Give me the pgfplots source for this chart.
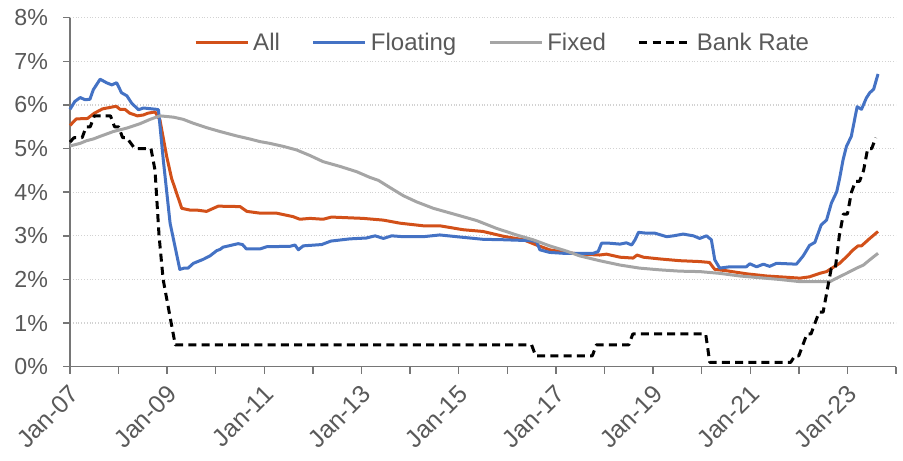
\documentclass[border=0pt]{standalone}
\usepackage{fontspec}
\setmainfont{Liberation Sans}
\usepackage{pgfplots}
\pgfplotsset{compat=1.18}
\usepackage{pgfplotstable}

\definecolor{allc}{RGB}{210,80,25}
\definecolor{floatc}{RGB}{68,114,196}
\definecolor{fixc}{RGB}{165,165,165}
\definecolor{labelgray}{RGB}{89,89,89}
\definecolor{axisgray}{RGB}{118,118,118}
\definecolor{gridgray}{RGB}{210,210,210}

% mortgage rates, x = decimal year, y = %
\pgfplotstableread{
t v
2007.00 5.53
2007.13 5.68
2007.36 5.69
2007.50 5.81
2007.67 5.91
2007.95 5.97
2008.03 5.90
2008.13 5.90
2008.23 5.81
2008.39 5.75
2008.51 5.77
2008.60 5.81
2008.75 5.84
2008.85 5.66
2008.99 4.82
2009.09 4.32
2009.30 3.63
2009.47 3.59
2009.61 3.59
2009.81 3.56
2010.05 3.68
2010.50 3.67
2010.64 3.56
2010.91 3.52
2011.25 3.52
2011.59 3.44
2011.73 3.38
2011.94 3.40
2012.21 3.38
2012.38 3.43
2013.03 3.40
2013.45 3.36
2013.79 3.29
2014.27 3.23
2014.61 3.23
2015.09 3.14
2015.50 3.10
2015.92 2.99
2016.33 2.91
2016.60 2.79
2016.87 2.68
2017.08 2.64
2017.49 2.58
2017.90 2.56
2018.04 2.58
2018.32 2.51
2018.59 2.49
2018.67 2.56
2018.80 2.51
2019.14 2.47
2019.55 2.43
2019.96 2.41
2020.16 2.39
2020.27 2.23
2020.51 2.20
2020.92 2.13
2021.33 2.08
2021.75 2.05
2022.02 2.03
2022.22 2.06
2022.43 2.14
2022.57 2.18
2022.71 2.28
2022.84 2.37
2022.98 2.52
2023.12 2.68
2023.22 2.77
2023.29 2.77
2023.46 2.94
2023.63 3.10
}\allrate

\pgfplotstableread{
t v
2007.00 5.90
2007.10 6.08
2007.21 6.17
2007.31 6.12
2007.41 6.13
2007.48 6.35
2007.62 6.59
2007.75 6.51
2007.86 6.46
2007.96 6.51
2008.06 6.28
2008.17 6.21
2008.27 6.04
2008.41 5.89
2008.51 5.93
2008.78 5.90
2008.82 5.89
2008.92 4.74
2009.06 3.29
2009.26 2.23
2009.35 2.26
2009.43 2.26
2009.54 2.37
2009.74 2.46
2009.88 2.54
2010.02 2.66
2010.09 2.69
2010.15 2.74
2010.46 2.82
2010.55 2.80
2010.63 2.70
2010.91 2.70
2011.05 2.75
2011.53 2.76
2011.63 2.79
2011.70 2.68
2011.80 2.77
2012.18 2.80
2012.37 2.88
2012.76 2.93
2013.10 2.95
2013.28 3.00
2013.45 2.94
2013.62 3.00
2013.86 2.98
2014.27 2.98
2014.61 3.02
2014.96 2.98
2015.50 2.92
2015.92 2.91
2016.46 2.89
2016.60 2.87
2016.67 2.68
2016.87 2.62
2017.15 2.60
2017.36 2.60
2017.77 2.60
2017.87 2.64
2017.94 2.83
2018.11 2.83
2018.32 2.81
2018.45 2.84
2018.56 2.79
2018.63 2.91
2018.70 3.08
2018.87 3.06
2019.04 3.06
2019.28 2.98
2019.42 3.00
2019.62 3.04
2019.83 3.00
2019.96 2.94
2020.10 3.00
2020.20 2.91
2020.27 2.45
2020.37 2.26
2020.58 2.29
2020.92 2.29
2020.99 2.36
2021.13 2.29
2021.27 2.35
2021.40 2.30
2021.54 2.37
2021.75 2.36
2021.95 2.35
2022.09 2.54
2022.22 2.78
2022.33 2.85
2022.46 3.25
2022.57 3.36
2022.67 3.75
2022.78 4.01
2022.84 4.32
2022.91 4.74
2022.98 5.05
2023.08 5.28
2023.20 5.96
2023.29 5.90
2023.39 6.16
2023.46 6.28
2023.54 6.36
2023.63 6.71
}\floatrate

\pgfplotstableread{
t v
2007.00 5.06
2007.21 5.12
2007.34 5.18
2007.48 5.22
2007.62 5.28
2007.89 5.39
2008.17 5.47
2008.44 5.57
2008.65 5.67
2008.85 5.75
2009.13 5.72
2009.33 5.67
2009.54 5.58
2009.81 5.48
2010.09 5.39
2010.43 5.29
2010.70 5.22
2010.91 5.16
2011.11 5.12
2011.39 5.05
2011.66 4.97
2011.94 4.84
2012.21 4.70
2012.56 4.59
2012.90 4.47
2013.17 4.34
2013.35 4.27
2013.58 4.11
2013.86 3.92
2014.13 3.78
2014.48 3.63
2014.96 3.48
2015.37 3.35
2015.78 3.17
2016.19 3.02
2016.53 2.91
2016.87 2.77
2017.22 2.65
2017.49 2.54
2017.90 2.43
2018.32 2.33
2018.72 2.26
2019.14 2.22
2019.55 2.19
2019.96 2.18
2020.37 2.14
2020.78 2.08
2021.19 2.04
2021.60 2.00
2022.02 1.95
2022.64 1.95
2022.78 2.03
2022.98 2.14
2023.19 2.26
2023.33 2.33
2023.46 2.45
2023.63 2.60
}\fixrate

\pgfplotstableread{
t v
2007.000 5.15
2007.083 5.25
2007.250 5.25
2007.333 5.50
2007.417 5.50
2007.500 5.75
2007.833 5.75
2007.917 5.50
2008.000 5.50
2008.083 5.25
2008.167 5.25
2008.333 5.00
2008.667 5.00
2008.750 4.50
2008.833 3.00
2008.917 2.00
2009.000 1.50
2009.083 1.00
2009.167 0.50
2016.500 0.50
2016.583 0.25
2017.750 0.25
2017.833 0.50
2018.500 0.50
2018.583 0.75
2020.083 0.75
2020.167 0.10
2021.833 0.10
2021.917 0.25
2022.000 0.25
2022.083 0.50
2022.167 0.75
2022.250 0.75
2022.333 1.00
2022.417 1.25
2022.500 1.25
2022.583 1.75
2022.667 2.25
2022.750 2.25
2022.833 3.00
2022.917 3.50
2023.000 3.50
2023.083 4.00
2023.167 4.25
2023.250 4.25
2023.333 4.50
2023.417 5.00
2023.500 5.00
2023.583 5.25
}\bankrate

\begin{document}
\begin{tikzpicture}
\begin{axis}[
  scale only axis,
  width=413pt, height=174.5pt,
  xmin=2007, xmax=2024,
  ymin=0, ymax=8,
  axis x line*=bottom,
  axis y line*=left,
  axis line style={-, draw=axisgray, line width=0.7pt},
  tick style={draw=axisgray, line width=0.7pt},
  tick align=outside,
  major tick length=3.5pt,
  minor tick length=3.5pt,
  xtick={2007,2009,...,2023},
  minor xtick={2008,2010,...,2024},
  xticklabels={Jan-07,Jan-09,Jan-11,Jan-13,Jan-15,Jan-17,Jan-19,Jan-21,Jan-23},
  ytick={0,...,8},
  yticklabels={0\%,1\%,2\%,3\%,4\%,5\%,6\%,7\%,8\%},
  ymajorgrids,
  major grid style={densely dotted, draw=gridgray, line width=0.6pt},
  xticklabel style={font=\fontsize{12.4}{14}\selectfont, text=labelgray, xshift=2.5pt, yshift=-8pt, rotate=45, anchor=east, inner sep=0pt},
  yticklabel style={font=\fontsize{11.6}{13}\selectfont, text=labelgray, xshift=-4pt},
  legend columns=-1,
  legend style={at={(0.525,0.9275)}, anchor=center, draw=none, fill=none,
    font=\fontsize{12}{14}\selectfont, text=labelgray,
    /tikz/every even column/.append style={column sep=14pt}},
  legend image code/.code={\draw[#1] (0pt,0pt) -- (26pt,0pt);},
  every axis plot/.append style={line width=1.5pt, line join=round},
  clip=false,
]
\addplot[allc, no markers] table[x=t, y=v] {\allrate};
\addplot[floatc, no markers] table[x=t, y=v] {\floatrate};
\addplot[fixc, no markers] table[x=t, y=v] {\fixrate};
\addplot[black, no markers, dash pattern=on 4pt off 2.6pt] table[x=t, y=v] {\bankrate};
\legend{All, Floating, Fixed, Bank Rate}
\end{axis}
\path (current axis.south west) ++(-35pt,-46.65pt);
\path (current axis.north east) ++(3.5pt,8.85pt);
\end{tikzpicture}
\end{document}
